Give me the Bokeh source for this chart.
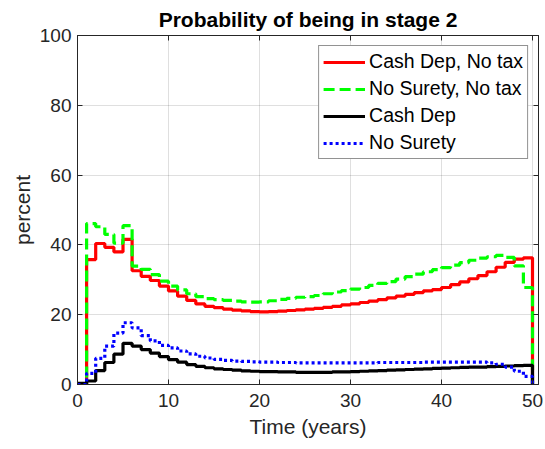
from bokeh.plotting import figure
from bokeh.models import LinearAxis, FixedTicker, Range1d, Legend, LegendItem, CustomLabelingPolicy
from bokeh.embed import file_html
from bokeh.resources import INLINE

# Time axis (years); each value holds from year k to year k+1, last point closes at 0
years = list(range(51))

cash_dep_no_tax = [0.0, 35.8, 40.4, 39.3, 38.0, 41.6, 32.6, 31.0, 29.8, 28.2,
                   26.8, 25.3, 24.1, 23.1, 22.4, 22.0, 21.6, 21.3, 21.1, 20.9,
                   20.8, 20.9, 21.0, 21.2, 21.4, 21.6, 21.8, 22.1, 22.4, 22.8,
                   23.1, 23.5, 23.9, 24.3, 24.8, 25.3, 25.8, 26.3, 26.8, 27.2,
                   27.8, 28.6, 29.4, 30.3, 31.2, 32.3, 33.6, 35.0, 35.9, 36.3,
                   0.0]

no_surety_no_tax = [0.0, 46.1, 45.2, 43.0, 40.5, 45.5, 33.9, 33.0, 31.5, 29.6,
                    28.2, 27.1, 26.0, 25.2, 24.6, 24.3, 24.1, 23.9, 23.7, 23.6,
                    23.7, 24.0, 24.4, 24.7, 25.0, 25.2, 25.5, 26.0, 26.5, 26.9,
                    27.3, 27.8, 28.4, 29.0, 29.5, 30.2, 30.9, 31.6, 32.3, 32.9,
                    33.5, 34.2, 34.9, 35.6, 36.2, 36.6, 37.0, 36.4, 34.0, 27.8,
                    0.0]

cash_dep = [0.3, 1.0, 4.0, 6.3, 8.7, 11.8, 11.0, 10.0, 9.0, 8.0,
            7.1, 6.4, 5.7, 5.2, 4.8, 4.5, 4.3, 4.1, 3.9, 3.8,
            3.7, 3.7, 3.6, 3.6, 3.5, 3.5, 3.5, 3.5, 3.6, 3.6,
            3.7, 3.8, 3.9, 4.0, 4.1, 4.2, 4.3, 4.4, 4.5, 4.6,
            4.7, 4.8, 4.9, 5.0, 5.0, 5.1, 5.2, 5.3, 5.4, 5.5,
            0.0]

no_surety = [0.0, 3.2, 7.5, 11.0, 14.7, 17.7, 16.2, 14.0, 12.5, 11.2,
             10.5, 9.6, 8.8, 8.1, 7.6, 7.2, 6.9, 6.7, 6.6, 6.5,
             6.4, 6.4, 6.3, 6.3, 6.2, 6.2, 6.2, 6.2, 6.2, 6.2,
             6.2, 6.2, 6.2, 6.3, 6.3, 6.3, 6.3, 6.3, 6.4, 6.4,
             6.4, 6.4, 6.4, 6.4, 6.4, 6.2, 5.8, 5.0, 3.8, 2.3,
             0.0]

x_ticks = [0, 10, 20, 30, 40, 50]
y_ticks = [0, 20, 40, 60, 80, 100]

FONT = "Liberation Sans"
AX = "#262626"

p = figure(width=545, height=449,
           x_range=Range1d(0, 50.66), y_range=Range1d(0, 100),
           output_backend="svg", toolbar_location=None,
           min_border_left=77, min_border_right=7,
           min_border_top=34, min_border_bottom=65,
           title="Probability of being in stage 2")

p.background_fill_color = "white"
p.border_fill_color = "white"
p.outline_line_color = AX
p.outline_line_width = 1

p.title.text_font = FONT
p.title.text_font_size = "21px"
p.title.text_font_style = "bold"
p.title.text_color = "black"
p.title.align = "center"

for ax, ticks in ((p.xaxis[0], x_ticks), (p.yaxis[0], y_ticks)):
    ax.ticker = FixedTicker(ticks=ticks)
    ax.axis_line_color = AX
    ax.major_tick_line_color = AX
    ax.major_tick_in = 5
    ax.major_tick_out = 0
    ax.minor_tick_line_color = None
    ax.major_label_text_font = FONT
    ax.major_label_text_font_size = "19px"
    ax.major_label_text_color = AX
    ax.axis_label_text_font = FONT
    ax.axis_label_text_font_size = "21px"
    ax.axis_label_text_font_style = "normal"
    ax.axis_label_text_color = AX

p.xaxis.axis_label = "Time (years)"
p.yaxis.axis_label = "percent"
p.xaxis.major_label_standoff = 9
p.yaxis.major_label_standoff = 6
p.xaxis.axis_label_standoff = 5
p.yaxis.axis_label_standoff = 3

top_ax = LinearAxis(ticker=FixedTicker(ticks=x_ticks),
                    major_label_policy=CustomLabelingPolicy(code="return new Set()"),
                    major_label_text_font_size="0px",
                    major_label_standoff=0, major_tick_in=5, major_tick_out=0,
                    minor_tick_line_color=None, axis_line_color=AX, major_tick_line_color=AX)
right_ax = LinearAxis(ticker=FixedTicker(ticks=y_ticks),
                      major_label_policy=CustomLabelingPolicy(code="return new Set()"),
                      major_label_text_font_size="0px",
                      major_label_standoff=0, major_tick_in=5, major_tick_out=0,
                      minor_tick_line_color=None, axis_line_color=AX, major_tick_line_color=AX)
p.add_layout(top_ax, "above")
p.add_layout(right_ax, "right")

p.xgrid.ticker = FixedTicker(ticks=x_ticks)
p.ygrid.ticker = FixedTicker(ticks=y_ticks)
p.grid.grid_line_color = AX
p.grid.grid_line_alpha = 0.15
p.grid.grid_line_width = 1

r1 = p.step(years, cash_dep_no_tax, mode="after", line_color="#ff0000", line_width=3.2)
r2 = p.step(years, no_surety_no_tax, mode="after", line_color="#00ff00", line_width=3.2,
            line_dash="11 5")
r3 = p.step(years, cash_dep, mode="after", line_color="#000000", line_width=3.2)
r4 = p.step(years, no_surety, mode="after", line_color="#0000ff", line_width=3.2,
            line_dash="3 3")

legend = Legend(items=[LegendItem(label="Cash Dep, No tax", renderers=[r1]),
                       LegendItem(label="No Surety, No tax", renderers=[r2]),
                       LegendItem(label="Cash Dep", renderers=[r3]),
                       LegendItem(label="No Surety", renderers=[r4])],
                location="top_right")
legend.margin = 10
legend.padding = 4
legend.spacing = 4
legend.glyph_width = 42
legend.glyph_height = 22
legend.label_height = 22
legend.label_standoff = 4
legend.label_text_font = FONT
legend.label_text_font_size = "19.5px"
legend.label_text_color = "black"
legend.border_line_color = AX
legend.border_line_width = 1
legend.background_fill_color = "white"
legend.background_fill_alpha = 1
p.add_layout(legend)

open("out.html", "w").write(file_html(p, INLINE))
